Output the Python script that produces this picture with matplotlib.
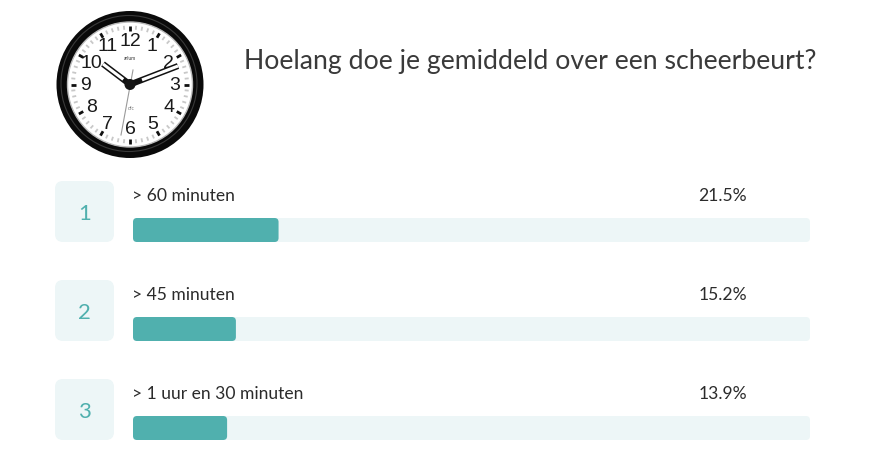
import numpy as np
import matplotlib
matplotlib.use("Agg")
import matplotlib.pyplot as plt
from matplotlib.patches import Circle, FancyBboxPatch

plt.rcParams["font.family"] = ["Lato", "DejaVu Sans"]

TITLE = "Hoelang doe je gemiddeld over een scheerbeurt?"
ranks = ["1", "2", "3"]
answers = ["> 60 minuten", "> 45 minuten", "> 1 uur en 30 minuten"]
percentages = [21.5, 15.2, 13.9]
clock_numbers = ["12", "1", "2", "3", "4", "5", "6", "7", "8", "9", "10", "11"]

TEAL = "#50b0ae"
PALE = "#edf6f7"
DARK = "#2b2b2b"

BAR_LEFT = 133
BAR_FULL = 677    # pixels for 100%
ROW_STEP = 99


def rounded(ax, x, y, w, h, r, color):
    ax.add_patch(FancyBboxPatch((x + r, y + r), w - 2 * r, h - 2 * r,
                                boxstyle=f"round,pad={r},rounding_size={r}",
                                fc=color, ec="none"))


def draw_clock(ax, cx, cy):
    ax.add_patch(Circle((cx, cy), 73.5, fc="#0a0a0a", ec="none"))
    ax.add_patch(Circle((cx - 1, cy - 1), 68, fc="none", ec="#3a3a3a", lw=0.8))
    ax.add_patch(Circle((cx, cy), 62.5, fc="white", ec="#bbbbbb", lw=1))

    for i in range(60):
        a = np.radians(i * 6)
        s, c = np.sin(a), np.cos(a)
        if i % 5 == 0:
            ax.plot([cx + 54 * s, cx + 59 * s], [cy - 54 * c, cy - 59 * c],
                    color="#111111", lw=2, solid_capstyle="butt")
        else:
            ax.plot([cx + 55 * s, cx + 59 * s], [cy - 55 * c, cy - 59 * c],
                    color="#c8c8c8", lw=1.3, solid_capstyle="butt")

    for i, label in enumerate(clock_numbers):
        a = np.radians(i * 30)
        r = 44.5
        ax.text(cx + r * np.sin(a), cy - r * np.cos(a) + 1, label, fontsize=14,
                color="#1a1a1a", ha="center", va="center",
                family=["Liberation Sans", "DejaVu Sans"])

    ax.text(cx, 58, "arlum", fontsize=3.5, color="#333333", ha="center", va="center")
    ax.text(cx + 1, 109, "dfc", fontsize=3.5, color="#777777", ha="center", va="center")

    # second hand, then hour and minute hands
    ax.plot([133, 121], [70, 135], color="#9a9a9a", lw=0.8, zorder=3)
    for tip in [(103, 64), (178, 66)]:
        ax.plot([cx, tip[0]], [cy, tip[1]], color="#111111", lw=4.4, zorder=4,
                solid_capstyle="butt")
        mid = (cx + (tip[0] - cx) * 0.25, cy + (tip[1] - cy) * 0.25)
        ax.plot([mid[0], tip[0]], [mid[1], tip[1]], color="white", lw=2.2, zorder=5,
                solid_capstyle="butt")
    ax.add_patch(Circle((cx, cy), 5.5, fc="#151515", ec="none", zorder=6))


fig = plt.figure(figsize=(8.7, 4.53), dpi=100)
ax = fig.add_axes([0, 0, 1, 1])
ax.set_xlim(0, 870)
ax.set_ylim(453, 0)
ax.axis("off")

draw_clock(ax, 130, 84.5)
ax.text(244, 61, TITLE, fontsize=19.2, color="#3a3a3a", ha="left", va="center")

for i, (rank, answer, pct) in enumerate(zip(ranks, answers, percentages)):
    top = 181 + i * ROW_STEP
    rounded(ax, 55, top, 59, 61, 8, PALE)
    ax.text(84.5, top + 33, rank, fontsize=16, color=TEAL, ha="center", va="center")
    ax.text(132.5, top + 15, answer, fontsize=12.6, color=DARK, ha="left", va="center")
    ax.text(747, top + 15, f"{pct}%", fontsize=12.6, color=DARK, ha="right", va="center")
    rounded(ax, BAR_LEFT, top + 37, BAR_FULL, 24, 4, PALE)
    rounded(ax, BAR_LEFT, top + 37, BAR_FULL * pct / 100, 24, 4, TEAL)

fig.savefig("out.png", dpi=100)
